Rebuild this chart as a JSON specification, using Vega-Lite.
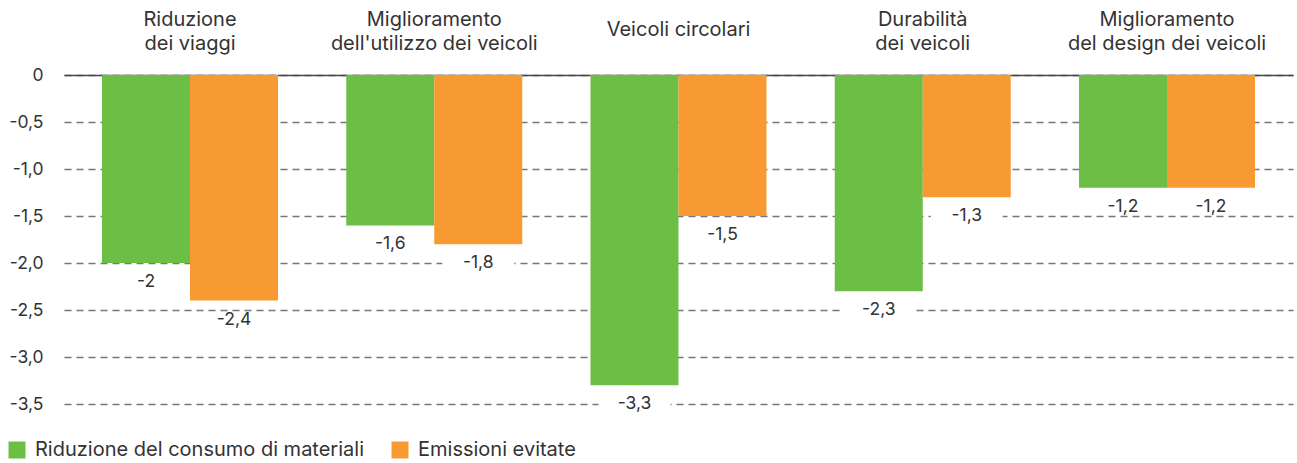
{
  "$schema": "https://vega.github.io/schema/vega-lite/v6.json",
  "width": 1229,
  "height": 329,
  "autosize": {"type": "none"},
  "padding": {"left": 64, "top": 75, "right": 4, "bottom": 59},
  "background": "white",
  "config": {
    "font": "Inter",
    "view": {"stroke": null},
    "axis": {"labelFont": "Inter", "labelColor": "#333333", "labelFontSize": 17}
  },
  "data": {
    "values": [
      {"cat": "Riduzione|dei viaggi", "serie": "Riduzione del consumo di materiali", "valore": -2},
      {"cat": "Riduzione|dei viaggi", "serie": "Emissioni evitate", "valore": -2.4},
      {"cat": "Miglioramento|dell'utilizzo dei veicoli", "serie": "Riduzione del consumo di materiali", "valore": -1.6},
      {"cat": "Miglioramento|dell'utilizzo dei veicoli", "serie": "Emissioni evitate", "valore": -1.8},
      {"cat": "Veicoli circolari", "serie": "Riduzione del consumo di materiali", "valore": -3.3},
      {"cat": "Veicoli circolari", "serie": "Emissioni evitate", "valore": -1.5},
      {"cat": "Durabilità|dei veicoli", "serie": "Riduzione del consumo di materiali", "valore": -2.3},
      {"cat": "Durabilità|dei veicoli", "serie": "Emissioni evitate", "valore": -1.3},
      {"cat": "Miglioramento|del design dei veicoli", "serie": "Riduzione del consumo di materiali", "valore": -1.2},
      {"cat": "Miglioramento|del design dei veicoli", "serie": "Emissioni evitate", "valore": -1.2}
    ]
  },
  "transform": [
    {"calculate": "replace(toString(datum.valore), '.', ',')", "as": "etichetta"}
  ],
  "encoding": {
    "x": {
      "field": "cat",
      "type": "nominal",
      "sort": null,
      "scale": {"paddingInner": 0.2794, "paddingOuter": 0.1556},
      "axis": {
        "orient": "top",
        "title": null,
        "labelAngle": 0,
        "ticks": false,
        "tickSize": 0,
        "domain": true,
        "domainColor": "#444444",
        "domainWidth": 1.5,
        "labelBaseline": "middle",
        "labelPadding": {"condition": {"test": "indexof(datum.value, '|') < 0", "value": 46}, "value": 56},
        "labelLineHeight": 24,
        "labelFontSize": 20,
        "labelLimit": 400,
        "labelExpr": "split(datum.label, '|')"
      }
    },
    "xOffset": {
      "field": "serie",
      "type": "nominal",
      "sort": ["Riduzione del consumo di materiali", "Emissioni evitate"],
      "scale": {"paddingInner": 0, "paddingOuter": 0}
    },
    "y": {
      "field": "valore",
      "type": "quantitative",
      "scale": {"domain": [-3.5, 0], "nice": false, "zero": false},
      "axis": {
        "title": null,
        "domain": false,
        "ticks": false,
        "values": [0, -0.5, -1, -1.5, -2, -2.5, -3, -3.5],
        "labelExpr": "datum.value == 0 ? '0' : (datum.value < 0 ? '-' : '') + replace(format(abs(datum.value), '.1f'), '.', ',')",
        "labelPadding": 21,
        "labelFontSize": 17.5,
        "grid": true,
        "gridColor": "#777777",
        "gridDash": [7, 5],
        "gridWidth": 1.3
      }
    }
  },
  "layer": [
    {
      "mark": {"type": "bar"},
      "encoding": {
        "color": {
          "field": "serie",
          "type": "nominal",
          "sort": ["Riduzione del consumo di materiali", "Emissioni evitate"],
          "scale": {"domain": ["Riduzione del consumo di materiali", "Emissioni evitate"], "range": ["#6DBE45", "#F79A32"]},
          "legend": {
            "title": null,
            "orient": "none",
            "direction": "horizontal",
            "legendX": -57,
            "legendY": 365,
            "symbolType": "square",
            "symbolSize": 289,
            "symbolStrokeWidth": 0,
            "symbolOpacity": 1,
            "labelFont": "Inter",
            "labelFontSize": 20,
            "labelColor": "#333333",
            "labelOffset": 8,
            "columnPadding": 26,
            "labelLimit": 400
          }
        }
      }
    },
    {
      "mark": {"type": "point", "filled": true, "color": "white", "opacity": 1, "strokeWidth": 0, "shape": "M-1,-0.15L1,-0.15L1,0.15L-1,0.15Z", "size": 5184, "yOffset": 18},
      "encoding": {}
    },
    {
      "mark": {"type": "text", "baseline": "alphabetic", "dy": 24, "fontSize": 17.5, "font": "Inter", "color": "#333333"},
      "encoding": {"text": {"field": "etichetta"}}
    }
  ]
}
